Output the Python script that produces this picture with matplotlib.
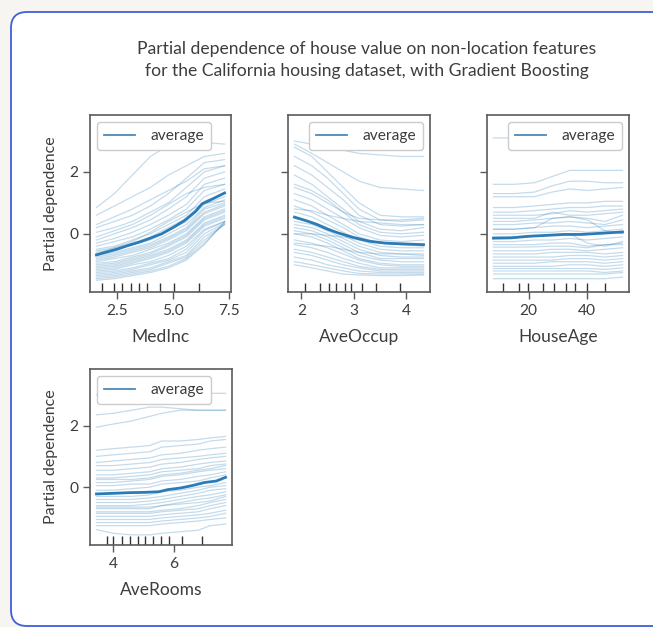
import matplotlib
matplotlib.use("Agg")
import matplotlib.pyplot as plt
from matplotlib.patches import FancyBboxPatch
from matplotlib.transforms import IdentityTransform

plt.rcParams['font.family'] = ['Lato', 'DejaVu Sans']

TEXT = '#3d3d3d'
SPINE = '#5a5a5a'
BLUE = '#1f77b4'

# ---- MedInc ----
medinc_x = [1.6, 2.4, 3.2, 4.0, 4.8, 5.6, 6.4, 7.3]
medinc_ice = [
    [0.85, 1.3, 1.9, 2.5, 2.85, 2.95, 2.95, 2.9],
    [0.6, 0.9, 1.2, 1.5, 1.9, 2.2, 2.5, 2.6],
    [0.3, 0.55, 0.8, 1.1, 1.4, 1.7, 2.1, 2.2],
    [0.2, 0.4, 0.6, 0.9, 1.3, 1.8, 2.3, 2.4],
    [0.05, 0.2, 0.4, 0.7, 1.0, 1.5, 2.0, 2.2],
    [-0.1, 0.1, 0.3, 0.6, 0.95, 1.3, 1.5, 1.6],
    [-0.2, 0.0, 0.2, 0.45, 0.8, 1.2, 1.8, 2.0],
    [-0.3, -0.15, 0.05, 0.3, 0.6, 0.95, 1.6, 1.8],
    [-0.4, -0.25, -0.1, 0.15, 0.45, 0.8, 1.4, 1.6],
    [-0.5, -0.4, -0.2, 0.0, 0.3, 0.6, 1.2, 1.45],
    [-0.55, -0.45, -0.3, -0.1, 0.2, 0.5, 1.05, 1.3],
    [-0.6, -0.5, -0.35, -0.2, 0.1, 0.4, 0.95, 1.2],
    [-0.65, -0.45, -0.25, 0.05, 0.4, 0.7, 1.0, 1.05],
    [-0.7, -0.6, -0.45, -0.3, 0.0, 0.3, 0.85, 1.1],
    [-0.75, -0.65, -0.5, -0.35, -0.1, 0.2, 0.8, 1.0],
    [-0.8, -0.7, -0.55, -0.4, -0.15, 0.15, 0.7, 0.95],
    [-0.85, -0.75, -0.6, -0.45, -0.2, 0.1, 0.65, 0.9],
    [-0.9, -0.8, -0.7, -0.5, -0.3, 0.0, 0.55, 0.8],
    [-0.95, -0.9, -0.75, -0.6, -0.35, -0.05, 0.5, 0.75],
    [-1.0, -0.95, -0.8, -0.65, -0.4, -0.1, 0.45, 0.7],
    [-1.05, -1.0, -0.85, -0.7, -0.5, -0.2, 0.35, 0.6],
    [-1.1, -1.05, -0.9, -0.75, -0.55, -0.25, 0.3, 0.55],
    [-1.15, -1.1, -0.95, -0.8, -0.6, -0.3, 0.25, 0.5],
    [-1.2, -1.15, -1.0, -0.9, -0.7, -0.4, 0.15, 0.4],
    [-1.25, -1.2, -1.1, -0.95, -0.8, -0.5, 0.1, 0.4],
    [-1.3, -1.25, -1.15, -1.0, -0.85, -0.6, 0.0, 0.35],
    [-1.35, -1.3, -1.2, -1.1, -0.9, -0.7, -0.1, 0.3],
    [-1.4, -1.35, -1.25, -1.15, -0.95, -0.75, -0.2, 0.3],
    [-1.45, -1.4, -1.3, -1.2, -1.05, -0.8, -0.3, 0.35],
    [-1.5, -1.45, -1.35, -1.25, -1.1, -0.85, -0.35, 0.4],
]
medinc_avg_x = [1.6, 2.0, 2.5, 3.0, 3.5, 4.0, 4.5, 5.0, 5.5, 6.0, 6.3, 6.8, 7.3]
medinc_avg = [-0.68, -0.6, -0.5, -0.38, -0.27, -0.14, 0.0, 0.2, 0.42, 0.72, 0.97, 1.14, 1.32]
medinc_deciles = [1.84, 2.36, 2.75, 3.13, 3.50, 3.86, 4.43, 5.06, 6.15]

# ---- AveOccup ----
aveoccup_x = [1.87, 2.2, 2.5, 2.8, 3.1, 3.5, 3.9, 4.33]
aveoccup_ice = [
    [3.0, 2.9, 2.8, 2.7, 2.6, 2.55, 2.5, 2.5],
    [2.9, 2.6, 2.3, 2.0, 1.7, 1.5, 1.45, 1.4],
    [2.8, 2.5, 2.0, 1.5, 1.0, 0.6, 0.55, 0.55],
    [2.5, 2.2, 1.8, 1.3, 0.8, 0.45, 0.4, 0.45],
    [2.2, 1.9, 1.5, 1.1, 0.6, 0.3, 0.25, 0.3],
    [1.9, 1.6, 1.2, 0.8, 0.4, 0.15, 0.1, 0.2],
    [1.6, 1.4, 1.1, 0.7, 0.3, 0.05, 0.0, 0.05],
    [1.5, 1.3, 1.0, 0.7, 0.5, 0.45, 0.45, 0.5],
    [1.3, 1.1, 0.8, 0.5, 0.2, -0.05, -0.1, -0.05],
    [1.1, 0.9, 0.6, 0.3, 0.0, -0.2, -0.25, -0.2],
    [0.9, 0.7, 0.45, 0.2, -0.1, -0.3, -0.35, -0.35],
    [0.8, 0.75, 0.6, 0.5, 0.4, 0.35, 0.3, 0.3],
    [0.7, 0.55, 0.3, 0.05, -0.2, -0.4, -0.45, -0.45],
    [0.5, 0.4, 0.2, -0.05, -0.3, -0.5, -0.55, -0.55],
    [0.4, 0.3, 0.1, -0.15, -0.4, -0.6, -0.65, -0.65],
    [0.3, 0.2, 0.0, -0.25, -0.5, -0.7, -0.75, -0.75],
    [0.2, 0.1, -0.1, -0.35, -0.6, -0.8, -0.8, -0.8],
    [0.1, 0.0, -0.2, -0.45, -0.7, -0.85, -0.9, -0.9],
    [0.0, 0.0, -0.05, -0.1, -0.2, -0.3, -0.35, -0.4],
    [0.0, -0.1, -0.3, -0.55, -0.8, -0.95, -1.0, -1.0],
    [-0.2, -0.3, -0.45, -0.65, -0.85, -1.0, -1.05, -1.05],
    [-0.3, -0.35, -0.4, -0.5, -0.6, -0.65, -0.65, -0.7],
    [-0.35, -0.45, -0.6, -0.8, -0.95, -1.1, -1.1, -1.1],
    [-0.5, -0.6, -0.75, -0.9, -1.05, -1.15, -1.15, -1.15],
    [-0.6, -0.7, -0.85, -1.0, -1.1, -1.2, -1.2, -1.2],
    [-0.75, -0.85, -1.0, -1.1, -1.2, -1.25, -1.25, -1.25],
    [-0.9, -1.0, -1.1, -1.2, -1.28, -1.3, -1.3, -1.3],
    [-1.0, -1.1, -1.2, -1.3, -1.33, -1.35, -1.35, -1.33],
]
aveoccup_avg_x = [1.87, 2.1, 2.3, 2.5, 2.7, 3.0, 3.3, 3.6, 4.0, 4.33]
aveoccup_avg = [0.54, 0.42, 0.3, 0.15, 0.03, -0.12, -0.24, -0.3, -0.33, -0.35]
aveoccup_deciles = [2.08, 2.35, 2.52, 2.67, 2.84, 2.95, 3.15, 3.43, 3.88]

# ---- HouseAge ----
houseage_x = [8, 15, 22, 28, 34, 40, 46, 52]
houseage_ice = [
    [3.1, 3.1, 3.15, 3.2, 3.2, 3.2, 3.2, 3.2],
    [1.6, 1.6, 1.65, 1.85, 2.05, 2.05, 2.05, 2.05],
    [1.3, 1.3, 1.35, 1.55, 1.7, 1.7, 1.65, 1.65],
    [1.2, 1.2, 1.2, 1.35, 1.45, 1.4, 1.45, 1.5],
    [0.85, 0.85, 0.9, 0.95, 1.0, 1.0, 1.05, 1.05],
    [0.7, 0.7, 0.75, 0.8, 0.85, 0.85, 0.9, 0.9],
    [0.6, 0.6, 0.6, 0.65, 0.75, 0.7, 0.75, 0.8],
    [0.5, 0.5, 0.5, 0.7, 0.6, 0.6, 0.65, 0.7],
    [0.4, 0.4, 0.45, 0.5, 0.55, 0.5, 0.4, 0.6],
    [0.3, 0.3, 0.35, 0.35, 0.4, 0.35, 0.3, 0.45],
    [0.15, 0.15, 0.2, 0.5, 0.55, 0.45, 0.1, 0.0],
    [0.15, 0.15, 0.2, 0.25, 0.25, 0.2, 0.25, 0.3],
    [0.0, 0.0, 0.05, 0.05, 0.1, 0.05, 0.1, 0.15],
    [-0.1, -0.1, -0.05, -0.05, 0.0, -0.3, -0.4, -0.25],
    [-0.25, -0.25, -0.2, -0.2, -0.15, -0.2, -0.15, -0.1],
    [-0.35, -0.35, -0.35, -0.3, -0.3, -0.4, -0.35, -0.3],
    [-0.43, -0.43, -0.42, -0.4, -0.4, -0.45, -0.35, -0.35],
    [-0.55, -0.55, -0.55, -0.5, -0.5, -0.55, -0.5, -0.45],
    [-0.65, -0.65, -0.65, -0.6, -0.6, -0.6, -0.65, -0.6],
    [-0.75, -0.75, -0.75, -0.75, -0.7, -0.7, -0.75, -0.7],
    [-0.85, -0.85, -0.85, -0.85, -0.8, -0.8, -0.85, -0.8],
    [-0.95, -0.95, -0.95, -0.9, -0.9, -0.9, -0.95, -0.9],
    [-1.05, -1.05, -1.05, -1.05, -1.0, -1.0, -1.05, -1.0],
    [-1.12, -1.12, -1.12, -1.12, -1.12, -1.12, -1.15, -1.1],
    [-1.2, -1.2, -1.2, -1.2, -1.2, -1.2, -1.25, -1.2],
    [-1.3, -1.3, -1.3, -1.3, -1.3, -1.3, -1.3, -1.25],
    [-1.45, -1.45, -1.45, -1.45, -1.45, -1.45, -1.45, -1.4],
]
houseage_avg_x = [8, 14, 20, 26, 32, 38, 45, 52]
houseage_avg = [-0.14, -0.13, -0.08, -0.05, -0.02, -0.02, 0.02, 0.06]
houseage_deciles = [11.2, 16.8, 19.9, 25.0, 28.5, 32.7, 35.7, 40.0, 45.9]

# ---- AveRooms ----
averooms_x = [3.45, 4.0, 4.6, 5.2, 5.6, 6.2, 6.8, 7.2, 7.7]
averooms_ice = [
    [3.0, 3.0, 3.0, 3.0, 3.0, 3.0, 3.0, 3.05, 3.05],
    [2.35, 2.4, 2.5, 2.6, 2.6, 2.55, 2.5, 2.5, 2.5],
    [1.95, 2.05, 2.15, 2.3, 2.4, 2.5, 2.5, 2.5, 2.5],
    [1.2, 1.25, 1.3, 1.35, 1.5, 1.5, 1.55, 1.6, 1.65],
    [1.0, 1.05, 1.1, 1.15, 1.3, 1.35, 1.4, 1.5, 1.55],
    [0.8, 0.85, 0.9, 0.95, 1.05, 1.1, 1.2, 1.25, 1.3],
    [0.7, 0.7, 0.75, 0.8, 0.9, 0.95, 1.0, 1.05, 1.1],
    [0.55, 0.55, 0.6, 0.65, 0.75, 0.8, 0.9, 0.95, 1.0],
    [0.4, 0.4, 0.45, 0.5, 0.6, 0.65, 0.75, 0.8, 0.85],
    [0.3, 0.3, 0.35, 0.4, 0.5, 0.55, 0.6, 0.7, 0.75],
    [0.25, 0.25, 0.25, 0.3, 0.4, 0.45, 0.55, 0.6, 0.7],
    [0.15, 0.15, 0.2, 0.25, 0.35, 0.4, 0.5, 0.55, 0.6],
    [0.05, 0.05, 0.1, 0.1, 0.2, 0.25, 0.35, 0.4, 0.5],
    [-0.1, -0.1, -0.05, 0.0, 0.1, 0.15, 0.2, 0.3, 0.4],
    [-0.3, -0.3, -0.3, -0.25, -0.15, -0.1, 0.0, 0.05, 0.15],
    [-0.4, -0.4, -0.4, -0.35, -0.3, -0.2, -0.1, 0.0, 0.05],
    [-0.5, -0.5, -0.5, -0.45, -0.4, -0.3, -0.2, -0.1, -0.05],
    [-0.6, -0.6, -0.6, -0.55, -0.5, -0.4, -0.3, -0.25, -0.15],
    [-0.65, -0.65, -0.65, -0.65, -0.6, -0.55, -0.5, -0.45, -0.3],
    [-0.7, -0.7, -0.7, -0.7, -0.6, -0.5, -0.4, -0.35, -0.25],
    [-0.8, -0.8, -0.8, -0.8, -0.75, -0.7, -0.6, -0.5, -0.4],
    [-0.85, -0.85, -0.85, -0.85, -0.8, -0.75, -0.7, -0.6, -0.5],
    [-0.95, -0.95, -0.95, -0.95, -0.9, -0.85, -0.8, -0.7, -0.6],
    [-1.05, -1.05, -1.05, -1.05, -1.0, -0.95, -0.9, -0.85, -0.75],
    [-1.15, -1.15, -1.15, -1.15, -1.1, -1.05, -1.0, -0.95, -0.85],
    [-1.25, -1.25, -1.25, -1.25, -1.2, -1.15, -1.1, -1.05, -1.0],
    [-1.38, -1.5, -1.55, -1.55, -1.5, -1.45, -1.4, -1.25, -1.2],
]
averooms_avg_x = [3.45, 4.0, 4.5, 5.0, 5.5, 5.8, 6.2, 6.6, 7.0, 7.4, 7.7]
averooms_avg = [-0.22, -0.2, -0.18, -0.17, -0.15, -0.08, -0.03, 0.05, 0.15, 0.2, 0.32]
averooms_deciles = [3.81, 4.0, 4.29, 4.55, 4.82, 5.06, 5.30, 5.57, 5.83, 6.26, 6.93]

panels = [
    ("MedInc", medinc_x, medinc_ice, medinc_avg_x, medinc_avg, medinc_deciles,
     [2.5, 5.0, 7.5], ["2.5", "5.0", "7.5"], "upper left", True),
    ("AveOccup", aveoccup_x, aveoccup_ice, aveoccup_avg_x, aveoccup_avg, aveoccup_deciles,
     [2, 3, 4], ["2", "3", "4"], "upper right", False),
    ("HouseAge", houseage_x, houseage_ice, houseage_avg_x, houseage_avg, houseage_deciles,
     [20, 40], ["20", "40"], "upper right", False),
    ("AveRooms", averooms_x, averooms_ice, averooms_avg_x, averooms_avg, averooms_deciles,
     [4, 6], ["4", "6"], "upper left", True),
]

# axes boxes in pixels: left, top, right, bottom
boxes = [(90, 115, 231, 292), (288, 115, 430, 292), (487, 115, 629, 292), (90, 369, 232, 545)]

W, H = 653, 627
fig = plt.figure(figsize=(W / 100, H / 100), dpi=100)
fig.patch.set_facecolor('#f7f5f1')

frame = FancyBboxPatch((11, 1), 660, 614, boxstyle="round,pad=0,rounding_size=16",
                       transform=IdentityTransform(), facecolor='white',
                       edgecolor='#3d5fd9', linewidth=1.3, zorder=-5)
fig.patches.append(frame)

for (name, gx, ice, ax_x, avg, dec, ticks, labels, loc, ylab), (l, t, r, b) in zip(panels, boxes):
    ax = fig.add_axes([l / W, 1 - b / H, (r - l) / W, (b - t) / H])
    ax.set_facecolor('white')
    for line in ice:
        ax.plot(gx, line, color=BLUE, alpha=0.26, linewidth=0.9)
    ax.plot(ax_x, avg, color='#2b7bb6', linewidth=2.0, label="average")
    ax.vlines(dec, 0, 0.05, transform=ax.get_xaxis_transform(), color='#333333', linewidth=1.0)
    ax.set_ylim(-1.88, 3.84)
    ax.set_yticks([0, 2])
    if ylab:
        ax.set_yticklabels(["0", "2"])
        ax.set_ylabel("Partial dependence", fontsize=11.5, color=TEXT, labelpad=8)
    else:
        ax.set_yticklabels([])
    ax.set_xticks(ticks)
    ax.set_xticklabels(labels)
    ax.set_xlabel(name, fontsize=12.5, color=TEXT, labelpad=8)
    ax.tick_params(colors=SPINE, labelcolor=TEXT, labelsize=11.2, length=5, width=1.0)
    for s in ax.spines.values():
        s.set_color(SPINE)
        s.set_linewidth(1.2)
    leg = ax.legend(loc=loc, fontsize=11.2, frameon=True, fancybox=True,
                    handlelength=2.0, handletextpad=1.0, borderpad=0.45, borderaxespad=0.45)
    leg.get_frame().set_edgecolor('#cccccc')
    leg.get_frame().set_linewidth(1.0)
    leg.get_frame().set_alpha(1.0)
    for txt in leg.get_texts():
        txt.set_color(TEXT)
    for h in leg.get_lines():
        h.set_linewidth(1.3)
        h.set_color('#4a89bb')

fig.text(0.562, 1 - 60 / H,
         "Partial dependence of house value on non-location features\n"
         "for the California housing dataset, with Gradient Boosting",
         ha='center', va='center', fontsize=12.6, color=TEXT, linespacing=1.4)

fig.savefig("out.png", dpi=100, facecolor=fig.get_facecolor())
